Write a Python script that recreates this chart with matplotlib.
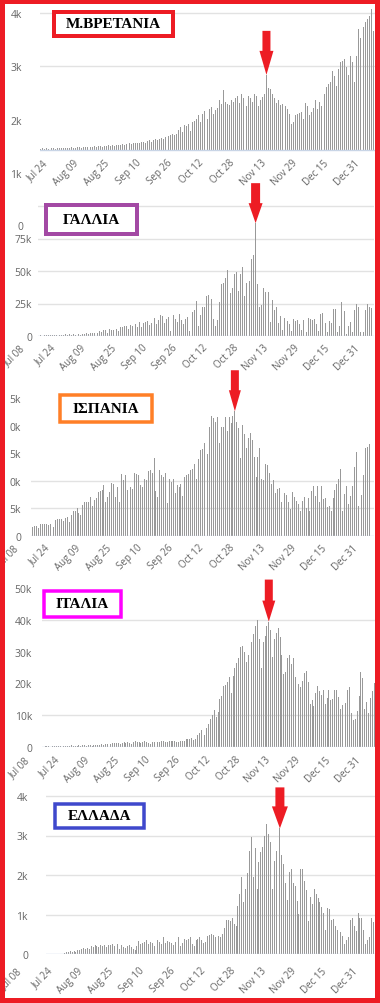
import numpy as np
import pandas as pd
import matplotlib
matplotlib.use("Agg")
import matplotlib.pyplot as plt
import matplotlib.dates as mdates
from matplotlib.patches import Rectangle

W, H = 380, 1004
RED = "#ED1C24"
BAR = "#999999"
TXT = "#666666"

# ---------------- data: daily values (thousands) ----------------
uk_name = "Μ.ΒΡΕΤΑΝΙΑ"
uk_start = "2020-07-19"
uk_base = 1.43
uk_arrow = "2020-11-12"
uk_vals = [
    1.45, 1.46, 1.45, 1.46, 1.45, 1.44, 1.46, 1.46, 1.45, 1.46,
    1.46, 1.47, 1.46, 1.47, 1.47, 1.46, 1.48, 1.47, 1.47, 1.48,
    1.48, 1.47, 1.49, 1.48, 1.49, 1.50, 1.48, 1.49, 1.50, 1.49,
    1.50, 1.51, 1.49, 1.50, 1.51, 1.52, 1.50, 1.52, 1.51, 1.53,
    1.52, 1.53, 1.54, 1.52, 1.54, 1.55, 1.56, 1.54, 1.56, 1.57,
    1.57, 1.56, 1.58, 1.59, 1.57, 1.60, 1.61, 1.59, 1.62, 1.63,
    1.61, 1.64, 1.66, 1.63, 1.67, 1.70, 1.69, 1.72, 1.73, 1.72,
    1.74, 1.80, 1.86, 1.76, 1.90, 1.88, 1.92, 1.78, 1.95, 1.97,
    2.02, 2.08, 1.96, 2.10, 2.16, 2.12, 2.02, 2.20, 2.24, 2.11,
    2.18, 2.22, 2.36, 2.30, 2.56, 2.34, 2.30, 2.28, 2.36, 2.34,
    2.40, 2.44, 2.32, 2.48, 2.40, 2.38, 2.26, 2.45, 2.40, 2.34,
    2.48, 2.44, 2.26, 2.36, 2.42, 2.48, 2.84, 2.60, 2.58, 2.48,
    2.40, 2.32, 2.36, 2.28, 2.30, 2.34, 2.26, 2.20, 2.11, 1.92,
    1.95, 2.08, 2.10, 2.12, 2.14, 2.01, 2.32, 2.26, 2.08, 2.14,
    2.22, 2.36, 2.20, 2.34, 2.26, 2.40, 2.48, 2.62, 2.66, 2.70,
    2.92, 2.82, 2.64, 2.95, 3.08, 3.10, 3.14, 2.98, 2.84, 3.20,
    3.08, 2.70, 3.20, 3.70, 3.54, 3.79, 3.73, 3.83, 3.89, 3.95,
    4.08, 3.67,
]

fr_name = "ΓΑΛΛΙΑ"
fr_start = "2020-07-14"
fr_arrow = "2020-11-05"
fr_vals = [
    0.4, 0.5, 0.3, 0.6, 0.5, 0.7, 0.4, 0.8, 0.6, 0.5,
    0.9, 0.7, 1.0, 0.6, 1.2, 0.9, 1.4, 0.8, 1.6, 1.1,
    1.3, 1.8, 1.0, 1.5, 1.9, 2.3, 1.2, 2.4, 2.3, 2.5,
    2.4, 2.2, 4.0, 3.0, 4.8, 4.3, 2.6, 5.5, 4.6, 5.0,
    6.5, 5.1, 4.2, 7.0, 6.6, 8.0, 7.5, 5.5, 8.6, 7.8,
    9.5, 8.9, 6.8, 10.5, 7.2, 9.8, 10.9, 11.2, 8.6, 10.0,
    12.0, 13.5, 9.5, 12.6, 15.8, 15.4, 10.0, 13.0, 14.5, 4.2,
    7.0, 16.2, 13.4, 11.0, 17.0, 12.5, 9.6, 13.0, 14.3, 4.0,
    10.5, 18.7, 20.3, 26.9, 7.7, 16.0, 22.1, 22.0, 30.5, 31.5,
    28.5, 28.5, 13.0, 8.0, 12.0, 26.0, 40.0, 41.0, 45.0, 51.0,
    20.0, 33.0, 37.0, 48.0, 49.0, 35.0, 48.0, 53.0, 31.0, 41.0,
    38.0, 42.0, 59.0, 62.0, 86.8, 40.0, 22.0, 24.0, 37.0, 34.0,
    25.0, 34.0, 11.0, 28.0, 20.0, 22.5, 10.0, 15.5, 5.0, 13.5,
    12.0, 11.5, 9.0, 4.0, 13.0, 11.5, 12.2, 9.0, 4.5, 12.5,
    10.5, 3.0, 14.0, 13.0, 12.5, 13.0, 9.5, 4.0, 17.0, 18.0,
    13.5, 10.0, 3.0, 11.5, 10.0, 21.0, 20.5, 3.0, 8.0, 26.5,
    19.5, 19.5, 1.5, 8.0, 11.0, 3.0, 20.0, 25.0, 22.0, 3.2,
    11.0, 3.0, 20.0, 25.0, 22.5, 21.5,
]

es_name = "ΙΣΠΑΝΙΑ"
es_start = "2020-07-13"
es_arrow = "2020-10-27"
es_vals = [
    1.3, 1.6, 1.9, 1.8, 1.5, 2.1, 2.1, 2.1, 2.2, 2.0,
    2.2, 1.8, 1.6, 2.9, 3.0, 3.0, 3.1, 2.7, 3.3, 3.4,
    2.6, 3.8, 4.5, 4.5, 5.0, 4.1, 3.8, 5.7, 6.1, 6.2,
    6.1, 7.0, 5.4, 6.5, 6.8, 8.0, 8.2, 8.3, 9.3, 6.2,
    7.0, 8.0, 9.6, 9.5, 7.0, 8.8, 6.1, 11.2, 10.2, 11.1,
    8.3, 7.7, 8.9, 8.6, 11.5, 11.3, 11.0, 9.3, 8.9, 10.4,
    10.2, 11.8, 11.9, 11.4, 14.1, 8.1, 7.0, 11.9, 11.0, 10.6,
    11.5, 6.0, 10.3, 9.7, 10.4, 7.7, 9.2, 8.9, 9.5, 7.3,
    10.7, 11.0, 11.3, 11.9, 12.2, 13.0, 10.4, 14.0, 15.6, 15.8,
    16.8, 18.4, 14.8, 19.8, 21.8, 21.3, 20.6, 21.5, 16.8, 19.8,
    19.8, 21.6, 19.0, 21.6, 20.5, 21.8, 22.6, 20.7, 19.6, 14.1,
    20.1, 18.4, 15.9, 17.7, 18.6, 17.4, 14.4, 10.7, 14.3, 15.9,
    10.4, 10.1, 13.0, 12.9, 11.4, 9.4, 10.2, 7.7, 8.6, 8.7,
    6.1, 7.9, 7.7, 7.4, 6.2, 4.9, 7.9, 7.1, 6.4, 5.8,
    4.5, 6.4, 7.0, 5.1, 6.8, 4.5, 8.2, 9.1, 7.3, 9.0,
    6.1, 9.1, 6.7, 6.8, 5.2, 5.5, 4.5, 6.8, 8.3, 9.5,
    10.4, 12.2, 4.5, 7.6, 9.1, 5.8, 7.3, 9.0, 12.5, 15.2,
    5.5, 9.1, 7.4, 11.0, 16.0, 16.2, 16.6,
]

it_name = "ΙΤΑΛΙΑ"
it_start = "2020-07-13"
it_arrow = "2020-11-11"
it_vals = [
    0.2, 0.15, 0.2, 0.25, 0.2, 0.15, 0.2, 0.25, 0.3, 0.2, 0.2, 0.25, 0.3, 0.35, 0.25,
    0.4, 0.5, 0.3, 0.4, 0.45, 0.5, 0.3, 0.5, 0.5, 0.45, 0.55, 0.6, 0.4, 0.6, 0.65,
    0.5, 0.7, 0.8, 0.55, 0.9, 1.0, 1.1, 0.8, 1.2, 1.3, 1.4, 1.3, 1.0, 1.4, 1.45,
    1.4, 1.5, 1.2, 0.9, 1.6, 1.8, 1.6, 1.5, 1.4, 1.6, 1.8, 1.7, 1.3, 1.0, 1.5,
    1.6, 1.7, 1.6, 1.5, 1.8, 1.8, 1.6, 1.7, 1.9, 1.8, 1.8, 1.8, 1.6, 1.5, 1.8,
    1.9, 2.0, 2.6, 2.5, 2.5, 2.7, 2.3, 2.6, 3.7, 4.5, 5.4, 5.5, 3.7, 5.9, 7.3,
    8.8, 10.0, 11.7, 9.3, 10.9, 15.2, 16.1, 19.1, 19.6, 20.4,
    21.9, 17.0, 22.5, 25.0, 26.5, 28.0, 31.5, 31.8, 30.0, 26.8,
    29.0, 31.0, 33.0, 35.5, 38.0, 40.0, 34.0, 25.0, 33.0, 35.0,
    38.0, 39.5, 37.0, 28.5, 34.0, 36.0, 37.4, 34.5, 29.0, 23.0,
    23.6, 28.0, 29.0, 26.0, 28.0, 22.0, 19.4, 19.9, 18.8, 20.9,
    23.2, 23.8, 20.6, 13.7, 14.8, 12.8, 17.0, 19.1, 17.6, 16.4,
    18.0, 13.7, 15.3, 17.9, 14.7, 15.0, 18.0, 18.0, 15.6, 12.0,
    13.3, 11.2, 13.9, 17.9, 19.0, 10.8, 8.6, 8.7, 11.2, 16.2,
    23.5, 21.8, 12.0, 14.2, 10.8, 15.4, 17.7, 20.3, 19.0,
]

gr_name = "ΕΛΛΑΔΑ"
gr_start = "2020-07-29"
gr_arrow = "2020-11-19"
gr_vals = [
    0.03, 0.04, 0.05, 0.07, 0.06, 0.08, 0.05, 0.09, 0.10, 0.12, 0.14, 0.13,
    0.16, 0.12, 0.20, 0.18, 0.22, 0.20, 0.18, 0.24, 0.21, 0.23, 0.17, 0.24,
    0.22, 0.26, 0.21, 0.20, 0.25, 0.13, 0.22, 0.18, 0.15, 0.20, 0.22, 0.17,
    0.12, 0.10, 0.21, 0.34, 0.25, 0.29, 0.30, 0.36, 0.25, 0.31, 0.28, 0.20,
    0.33, 0.35, 0.30, 0.25, 0.42, 0.29, 0.32, 0.31, 0.28, 0.22, 0.30, 0.40,
    0.44, 0.21, 0.28, 0.38, 0.36, 0.38, 0.42, 0.25, 0.21, 0.35, 0.38, 0.42,
    0.36, 0.27, 0.30, 0.45, 0.48, 0.50, 0.47, 0.44, 0.48, 0.46, 0.42, 0.50,
    0.67, 0.85, 0.87, 0.83, 0.92,
    0.76, 0.70, 1.22, 1.52, 1.94, 1.31, 1.65, 2.05, 2.62, 2.95,
    1.94, 2.68, 1.65, 2.34, 2.57, 2.70, 2.99, 3.29, 3.04, 2.83,
    1.65, 2.36, 2.62, 3.16, 3.18, 2.50, 2.28, 1.81, 1.37, 2.07,
    2.15, 1.81, 1.73, 1.35, 1.01, 2.15, 2.15, 1.86, 1.61, 0.84,
    1.45, 1.27, 1.65, 1.52, 1.41, 1.31, 1.18, 1.05, 0.62, 1.16,
    1.14, 0.85, 0.88, 0.70, 0.60, 0.86, 0.55, 0.45, 0.25, 0.35,
    0.42, 0.85, 0.90, 0.70, 0.58, 1.03, 0.90, 0.92, 0.60, 0.25,
    0.35, 0.42, 0.90, 0.80, 0.50,
]

tick_dates = pd.date_range("2020-07-08", periods=12, freq="16D")

# ---------------- layout (pixels, top-left origin) ----------------
panels = [
    dict(name=uk_name, start=uk_start, vals=uk_vals, base=uk_base, arrow=uk_arrow,
         yticks=[1, 2, 3, 4], ylabels=["1k", "2k", "3k", "4k"], grid=[3, 4],
         box=(40, 5, 375, 174), xref=(50, 1.95), yref=((1, 174), (4, 14)),
         lab_right=22, xoff=7, first_tick=1,
         tag=(54, 13, 173, 37), tag_color=RED, tag_lw=4,
         arr=(44, 24, 14, 8)),
    dict(name=fr_name, start=fr_start, vals=fr_vals, base=0, arrow=fr_arrow,
         yticks=[0, 25, 50, 75], ylabels=["0", "25k", "50k", "75k"], grid=[25, 50, 75, 100],
         box=(38, 200, 374, 337), xref=(58, 1.9), yref=((0, 337), (100, 207)),
         lab_right=32, xoff=6, first_tick=0,
         tag=(46, 206, 137, 235), tag_color="#A349A4", tag_lw=4,
         arr=(40, 20, 14, 9)),
    dict(name=es_name, start=es_start, vals=es_vals, base=0, arrow=es_arrow,
         yticks=[0, 5, 10, 15, 20, 25], ylabels=["0", "5k", "0k", "5k", "0k", "5k"], grid=[5, 10],
         box=(31, 388, 374, 537), xref=(52, 1.925), yref=((0, 537), (25, 399)),
         lab_right=21, xoff=6, first_tick=0,
         tag=(60, 396, 152, 423), tag_color="#FF7F27", tag_lw=3.5,
         arr=(41, 21, 12, 8)),
    dict(name=it_name, start=it_start, vals=it_vals, base=0, arrow=it_arrow,
         yticks=[0, 10, 20, 30, 40, 50], ylabels=["0", "10k", "20k", "30k", "40k", "50k"], grid=[10, 40],
         box=(42, 582, 376, 748), xref=(62, 1.88), yref=((0, 748), (40, 621)),
         lab_right=32, xoff=7, first_tick=0,
         tag=(44, 592, 121, 618), tag_color="#FF00FF", tag_lw=3.5,
         arr=(42, 21, 13, 8)),
    dict(name=gr_name, start=gr_start, vals=gr_vals, base=0, arrow=gr_arrow,
         yticks=[0, 1, 2, 3, 4], ylabels=["0", "1k", "2k", "3k", "4k"], grid=[1, 2, 3, 4],
         box=(46, 785, 376, 955), xref=(55, 1.906), yref=((0, 955), (4, 797)),
         lab_right=28, xoff=11, first_tick=0,
         tag=(55, 805, 144, 829), tag_color="#3F48CC", tag_lw=3.5,
         arr=(41, 22, 16, 9)),
]

PX = 72 / 100  # points per pixel
jul24 = mdates.date2num(pd.Timestamp("2020-07-24"))

fig = plt.figure(figsize=(W / 100, H / 100), dpi=100)
fig.patch.set_facecolor("white")

for p in panels:
    l, t, r, b = p["box"]
    ax = fig.add_axes([l / W, 1 - b / H, (r - l) / W, (b - t) / H])
    ax.patch.set_visible(False)

    dates = pd.date_range(p["start"], periods=len(p["vals"]), freq="D")
    x = mdates.date2num(dates)
    v = np.array(p["vals"])
    base = p["base"]
    ax.bar(x, v - base, bottom=base, width=0.5, color=BAR, zorder=2,
           linewidth=0, antialiased=False)

    a, s = p["xref"]
    ax.set_xlim(jul24 + (l - a) / s, jul24 + (r - a) / s)
    (v0, y0), (v1, y1) = p["yref"]
    k = (y0 - y1) / (v1 - v0)
    ax.set_ylim(v0 - (b - y0) / k, v0 + (y0 - t) / k)

    for g in p["grid"]:
        ax.axhline(g, color="#e2e2e2", lw=1, zorder=1)
    ax.axhline(base, color="#c9d5e6", lw=1, zorder=3)

    for sp in ax.spines.values():
        sp.set_visible(False)
    ax.set_xticks([])
    ax.set_yticks(p["yticks"], p["ylabels"])
    ax.tick_params(axis="y", length=0, pad=(l - p["lab_right"]) * PX,
                   labelsize=7.5, labelcolor=TXT)
    for lab in ax.get_yticklabels():
        lab.set_fontfamily("Open Sans")

    for d in tick_dates[p["first_tick"]:]:
        ax.annotate(d.strftime("%b %d"), xy=(mdates.date2num(d), base),
                    xytext=(0, -p["xoff"]), textcoords="offset pixels",
                    rotation=45, ha="right", va="top", fontsize=7,
                    color=TXT, family="Open Sans", annotation_clip=False)

    # red arrow pointing at the highlighted day
    ad = pd.Timestamp(p["arrow"])
    av = v[dates.get_loc(ad)]
    L, hl, hw, tw = p["arr"]
    ax.annotate("", xy=(mdates.date2num(ad), av), xytext=(0, L),
                textcoords="offset pixels", annotation_clip=False, zorder=5,
                arrowprops=dict(arrowstyle=f"simple,head_length={hl},head_width={hw},tail_width={tw}",
                                mutation_scale=PX, color=RED, lw=0,
                                shrinkA=0, shrinkB=0))

    # country tag
    tl, tt, tr, tb = p["tag"]
    fig.patches.append(Rectangle((tl / W, 1 - tb / H), (tr - tl) / W, (tb - tt) / H,
                                 transform=fig.transFigure, facecolor="white",
                                 edgecolor=p["tag_color"], lw=p["tag_lw"] * PX, zorder=4))
    fig.text((tl + tr) / 2 / W, 1 - (tt + tb) / 2 / H, p["name"], ha="center", va="center",
             fontsize=11, fontweight="bold", family="Liberation Serif", color="black", zorder=5)

# cut-off top label of the France axis
fig.text(23 / W, 1 - 227 / H, "0", ha="right", va="center", fontsize=7.5,
         color=TXT, family="Open Sans")

# outer red frame
fig.patches.append(Rectangle((0, 0), 1, 1, transform=fig.transFigure, fill=False,
                             edgecolor=RED, lw=10 * PX, zorder=10))

fig.savefig("out.png", dpi=100)
